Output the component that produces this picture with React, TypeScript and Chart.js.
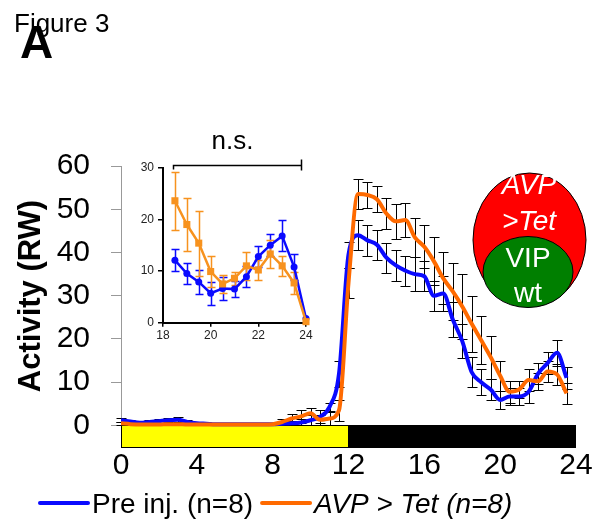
import React, { useEffect, useRef } from "react";
import { Chart, registerables } from "chart.js";

Chart.register(...registerables);

const FONT = "'Liberation Sans', Arial, Helvetica, sans-serif";
const BLUE = "#0a0aff";
const ORANGE = "#ff6a00";
const INSET_ORANGE = "#f7921e";

// ---- Main chart data (hours ZT, 30-min bins) ----
const hours = [
  0, 0.5, 1, 1.5, 2, 2.5, 3, 3.5, 4, 4.5, 5, 5.5, 6, 6.5, 7, 7.5, 8, 8.5, 9, 9.5, 10, 10.5, 11, 11.5,
  12, 12.5, 13, 13.5, 14, 14.5, 15, 15.5, 16, 16.5, 17, 17.5, 18, 18.5, 19, 19.5, 20, 20.5, 21, 21.5, 22, 22.5, 23, 23.5,
];
const preInj = [
  1.2, 0.9, 0.6, 0.8, 1.0, 1.2, 1.3, 0.8, 0.5, 0.4, 0.3, 0.3, 0.3, 0.3, 0.3, 0.3, 0.3, 0.4, 0.5, 0.7, 1.2, 2.0, 4.3, 12.0,
  39.5, 44.0, 42.8, 41.8, 38.8, 37.0, 35.8, 35.0, 34.5, 30.0, 30.5, 24.5, 19.5, 12.3, 10.0, 8.3, 5.9, 6.7, 6.7, 7.8, 12.0, 14.4, 16.8, 11.0,
];
const preInjErr = [
  0.5, 0.4, 0.4, 0.5, 0.5, 0.5, 0.6, 0.4, 0.3, 0.3, 0.2, 0.2, 0.2, 0.2, 0.2, 0.2, 0.3, 0.4, 0.6, 0.8, 1.2, 1.5, 1.0, 3.0,
  3.0, 3.5, 3.5, 3.5, 3.5, 3.5, 3.5, 4.0, 3.5, 3.5, 4.0, 4.0, 4.0, 3.5, 3.0, 2.5, 2.0, 2.0, 2.0, 2.5, 2.5, 2.5, 3.0, 2.5,
];
const avpTet = [
  0.5, 0.3, 0.2, 0.2, 0.2, 0.3, 0.3, 0.2, 0.2, 0.2, 0.2, 0.2, 0.2, 0.2, 0.2, 0.2, 0.3, 0.8, 1.6, 2.1, 2.8, 1.3, 1.6, 3.5,
  33.0, 53.5, 53.3, 52.3, 49.0, 47.2, 47.5, 43.5, 41.3, 38.0, 34.0, 31.0, 27.5, 23.5, 19.7, 15.8, 11.5, 7.8, 8.3, 10.5, 10.2, 12.5, 11.8, 7.4,
];
const avpTetErr = [
  0.3, 0.2, 0.2, 0.2, 0.2, 0.2, 0.2, 0.2, 0.2, 0.2, 0.2, 0.2, 0.2, 0.2, 0.2, 0.2, 0.3, 0.6, 1.0, 1.5, 1.2, 1.2, 1.5, 2.5,
  3.5, 3.5, 3.0, 3.0, 3.5, 4.0, 4.0, 4.5, 5.0, 5.5, 6.0, 6.5, 7.5, 6.5, 5.5, 5.0, 3.5, 2.5, 2.0, 2.5, 2.0, 2.5, 2.5, 2.5,
];
const yTicks = [0, 10, 20, 30, 40, 50, 60];
const xTicks = [0, 4, 8, 12, 16, 20, 24];
const lightPhases = [
  { from: 0, to: 12, color: "#ffff00" },
  { from: 12, to: 24, color: "#000000" },
];
const seriesLabels = ["Pre inj. (n=8)", "AVP > Tet (n=8)"];
const yTitle = "Activity (RW)";

// ---- Inset data ----
const insetHours = [18.5, 19, 19.5, 20, 20.5, 21, 21.5, 22, 22.5, 23, 23.5, 24];
const insetPre = [12.1, 9.5, 7.9, 5.7, 6.6, 6.5, 8.9, 12.8, 15.0, 16.8, 10.8, 0.8];
const insetPreErr = [2.1, 2.1, 2.3, 2.2, 2.3, 1.5, 2.0, 2.1, 2.1, 3.0, 2.5, 0];
const insetAvp = [23.6, 19.0, 15.4, 9.9, 7.5, 8.6, 11.0, 10.2, 13.3, 11.0, 7.7, 0.2];
const insetAvpErr = [5.6, 5.2, 6.3, 3.0, 1.8, 1.3, 2.7, 2.0, 2.7, 1.9, 2.2, 0];
const insetYTicks = [0, 10, 20, 30];
const insetXTicks = [18, 20, 22, 24];
const nsBracket = { from: 18.42, to: 23.8, label: "n.s." };

const toPoints = (xs: number[], ys: number[]) => xs.map((x, i) => ({ x, y: ys[i] }));

const errorBarsPlugin = {
  id: "errorBars",
  beforeDatasetsDraw(chart: any) {
    const { ctx } = chart;
    const xs = chart.scales.x;
    const ys = chart.scales.y;
    chart.data.datasets.forEach((ds: any, i: number) => {
      if (!ds.errors || !chart.isDatasetVisible(i)) return;
      ctx.save();
      ctx.strokeStyle = ds.errorColor;
      ctx.lineWidth = ds.errorWidth;
      const half = ds.errorCap / 2;
      ds.data.forEach((p: any, j: number) => {
        const e = ds.errors[j];
        if (!e) return;
        const px = Math.round(xs.getPixelForValue(p.x)) + 0.5;
        const top = Math.round(ys.getPixelForValue(p.y + e)) + 0.5;
        const bot = Math.round(ys.getPixelForValue(Math.max(p.y - e, 0))) + 0.5;
        ctx.beginPath();
        ctx.moveTo(px, top);
        ctx.lineTo(px, bot);
        ctx.moveTo(px - half, top);
        ctx.lineTo(px + half, top);
        ctx.moveTo(px - half, bot);
        ctx.lineTo(px + half, bot);
        ctx.stroke();
      });
      ctx.restore();
    });
  },
};

const lightPhasePlugin = {
  id: "lightPhase",
  beforeDatasetsDraw(chart: any) {
    const { ctx, chartArea } = chart;
    const xs = chart.scales.x;
    const ys = chart.scales.y;
    const top = Math.round(ys.getPixelForValue(0));
    const bottom = Math.round(chartArea.bottom);
    ctx.save();
    lightPhases.forEach((ph) => {
      const x0 = Math.round(xs.getPixelForValue(ph.from));
      const x1 = Math.round(xs.getPixelForValue(ph.to));
      ctx.fillStyle = ph.color;
      ctx.fillRect(x0, top, x1 - x0, bottom - top);
      ctx.strokeStyle = "#000";
      ctx.lineWidth = 1;
      ctx.strokeRect(x0 + 0.5, top + 0.5, x1 - x0 - 1, bottom - top - 1);
    });
    ctx.restore();
  },
};

const decorPlugin = {
  id: "decor",
  afterDraw(chart: any) {
    const { ctx } = chart;
    ctx.save();
    // Figure label
    ctx.fillStyle = "#000";
    ctx.textAlign = "left";
    ctx.textBaseline = "alphabetic";
    ctx.font = `26px ${FONT}`;
    ctx.fillText("Figure 3", 14, 32);
    ctx.font = `bold 46px ${FONT}`;
    ctx.fillText("A", 20, 58);

    // Y title
    ctx.save();
    ctx.translate(31, 296);
    ctx.rotate(-Math.PI / 2);
    ctx.font = `bold 31px ${FONT}`;
    ctx.textAlign = "center";
    ctx.textBaseline = "middle";
    ctx.fillText(yTitle, 0, 0);
    ctx.restore();

    // Genotype ellipses
    ctx.lineWidth = 1;
    ctx.strokeStyle = "#000";
    ctx.fillStyle = "#ff0000";
    ctx.beginPath();
    ctx.ellipse(529.5, 240, 56.5, 67, 0, 0, Math.PI * 2);
    ctx.fill();
    ctx.stroke();
    ctx.fillStyle = "#007f00";
    ctx.beginPath();
    ctx.ellipse(528, 272, 45, 35.5, 0, 0, Math.PI * 2);
    ctx.fill();
    ctx.stroke();
    ctx.fillStyle = "#fff";
    ctx.textAlign = "center";
    ctx.textBaseline = "alphabetic";
    ctx.font = `italic 28px ${FONT}`;
    ctx.fillText("AVP", 529, 194);
    ctx.fillText(">Tet", 529, 230);
    ctx.font = `28px ${FONT}`;
    ctx.fillText("VIP", 528, 267);
    ctx.fillText("wt", 528, 302);

    // Legend
    let x = 40;
    const ly = 503;
    ctx.textAlign = "left";
    chart.data.datasets.forEach((ds: any) => {
      ctx.strokeStyle = ds.borderColor;
      ctx.lineWidth = 4;
      ctx.lineCap = "round";
      ctx.beginPath();
      ctx.moveTo(x, ly);
      ctx.lineTo(x + 48, ly);
      ctx.stroke();
      ctx.fillStyle = "#000";
      ctx.font = `${ds.legendItalic ? "italic " : ""}28px ${FONT}`;
      ctx.fillText(ds.label, x + 52, 513);
      x += 52 + ctx.measureText(ds.label).width + 9;
    });
    ctx.restore();
  },
};

const insetAnnotPlugin = {
  id: "insetAnnot",
  afterDraw(chart: any) {
    const { ctx, chartArea } = chart;
    const xs = chart.scales.x;
    const x0 = Math.round(xs.getPixelForValue(nsBracket.from)) + 0.5;
    const x1 = Math.round(xs.getPixelForValue(nsBracket.to)) + 0.5;
    const y = Math.round(chartArea.top - 3) + 0.5;
    ctx.save();
    ctx.strokeStyle = "#000";
    ctx.lineWidth = 1.5;
    ctx.beginPath();
    ctx.moveTo(x0, y + 4);
    ctx.lineTo(x0, y);
    ctx.lineTo(x1, y);
    ctx.moveTo(x1, y - 6);
    ctx.lineTo(x1, y + 5);
    ctx.stroke();
    ctx.fillStyle = "#000";
    ctx.font = `26px ${FONT}`;
    ctx.textAlign = "center";
    ctx.textBaseline = "alphabetic";
    ctx.fillText(nsBracket.label, (x0 + x1) / 2 - 5, y - 17);
    ctx.restore();
  },
};

export default function App() {
  const mainRef = useRef<HTMLCanvasElement>(null);
  const insetRef = useRef<HTMLCanvasElement>(null);

  useEffect(() => {
    const main = new Chart(mainRef.current as HTMLCanvasElement, {
      type: "line",
      data: {
        datasets: [
          {
            label: seriesLabels[0],
            data: toPoints(hours, preInj),
            borderColor: BLUE,
            backgroundColor: BLUE,
            borderWidth: 4,
            pointRadius: 0,
            cubicInterpolationMode: "monotone",
            order: 1,
            errors: preInjErr,
            errorColor: "#000",
            errorWidth: 1,
            errorCap: 10,
          } as any,
          {
            label: seriesLabels[1],
            data: toPoints(hours, avpTet),
            borderColor: ORANGE,
            backgroundColor: ORANGE,
            borderWidth: 4,
            pointRadius: 0,
            cubicInterpolationMode: "monotone",
            order: 0,
            errors: avpTetErr,
            errorColor: "#000",
            errorWidth: 1,
            errorCap: 10,
            legendItalic: true,
          } as any,
        ],
      },
      options: {
        animation: false,
        responsive: false,
        devicePixelRatio: 1,
        layout: { padding: { left: 0, right: 20, top: 166, bottom: 39.5 } },
        plugins: { legend: { display: false }, tooltip: { enabled: false } },
        scales: {
          x: {
            type: "linear",
            min: 0,
            max: 24,
            afterBuildTicks: (s: any) => {
              s.ticks = xTicks.map((v) => ({ value: v }));
            },
            afterFit: (s: any) => {
              s.height = 40;
            },
            grid: { display: false, drawTicks: false },
            border: { display: false },
            ticks: { font: { family: FONT, size: 30 }, color: "#000", padding: 0, maxRotation: 0 },
          },
          y: {
            type: "linear",
            min: -5.1,
            max: 60,
            afterBuildTicks: (s: any) => {
              s.ticks = yTicks.map((v) => ({ value: v }));
            },
            afterFit: (s: any) => {
              s.width = 121;
            },
            grid: { display: true, drawOnChartArea: false, drawTicks: true, tickLength: 10, color: "#999", lineWidth: 1 },
            border: { display: true, color: "#999", width: 1 },
            ticks: { font: { family: FONT, size: 30 }, color: "#000", padding: 21 },
          },
        },
      } as any,
      plugins: [lightPhasePlugin, errorBarsPlugin, decorPlugin],
    });

    const inset = new Chart(insetRef.current as HTMLCanvasElement, {
      type: "line",
      data: {
        datasets: [
          {
            label: seriesLabels[0],
            data: toPoints(insetHours, insetPre),
            borderColor: BLUE,
            backgroundColor: BLUE,
            borderWidth: 2.5,
            pointStyle: "circle",
            pointRadius: 3.5,
            pointBorderWidth: 0,
            tension: 0,
            clip: false,
            order: 1,
            errors: insetPreErr,
            errorColor: BLUE,
            errorWidth: 1.5,
            errorCap: 8,
          } as any,
          {
            label: seriesLabels[1],
            data: toPoints(insetHours, insetAvp),
            borderColor: INSET_ORANGE,
            backgroundColor: INSET_ORANGE,
            borderWidth: 2.5,
            pointStyle: "rect",
            pointRadius: 5,
            pointBorderWidth: 0,
            tension: 0,
            clip: false,
            order: 0,
            errors: insetAvpErr,
            errorColor: INSET_ORANGE,
            errorWidth: 1.5,
            errorCap: 8,
          } as any,
        ],
      },
      options: {
        animation: false,
        responsive: false,
        devicePixelRatio: 1,
        layout: { padding: { left: 0, right: 14, top: 42.7, bottom: 7.3 } },
        plugins: { legend: { display: false }, tooltip: { enabled: false } },
        scales: {
          x: {
            type: "linear",
            min: 18,
            max: 24,
            afterBuildTicks: (s: any) => {
              s.ticks = insetXTicks.map((v) => ({ value: v }));
            },
            afterFit: (s: any) => {
              s.height = 20;
            },
            grid: { display: true, drawOnChartArea: false, drawTicks: true, tickLength: 4, color: "#000", lineWidth: 1.5 },
            border: { display: true, color: "#000", width: 2 },
            ticks: { font: { family: FONT, size: 12 }, color: "#222", padding: 2, maxRotation: 0 },
          },
          y: {
            type: "linear",
            min: 0,
            max: 30,
            afterBuildTicks: (s: any) => {
              s.ticks = insetYTicks.map((v) => ({ value: v }));
            },
            afterFit: (s: any) => {
              s.width = 43;
            },
            grid: { display: true, drawOnChartArea: false, drawTicks: true, tickLength: 5, color: "#000", lineWidth: 1.5 },
            border: { display: true, color: "#000", width: 2 },
            ticks: { font: { family: FONT, size: 12 }, color: "#222", padding: 4 },
          },
        },
      } as any,
      plugins: [errorBarsPlugin, insetAnnotPlugin],
    });

    return () => {
      main.destroy();
      inset.destroy();
    };
  }, []);

  return (
    <div style={{ position: "fixed", left: 0, top: 0, width: 596, height: 527, background: "#fff" }}>
      <canvas ref={mainRef} width={596} height={527} style={{ position: "absolute", left: 0, top: 0 }} />
      <canvas ref={insetRef} width={200} height={225} style={{ position: "absolute", left: 120, top: 125 }} />
    </div>
  );
}
